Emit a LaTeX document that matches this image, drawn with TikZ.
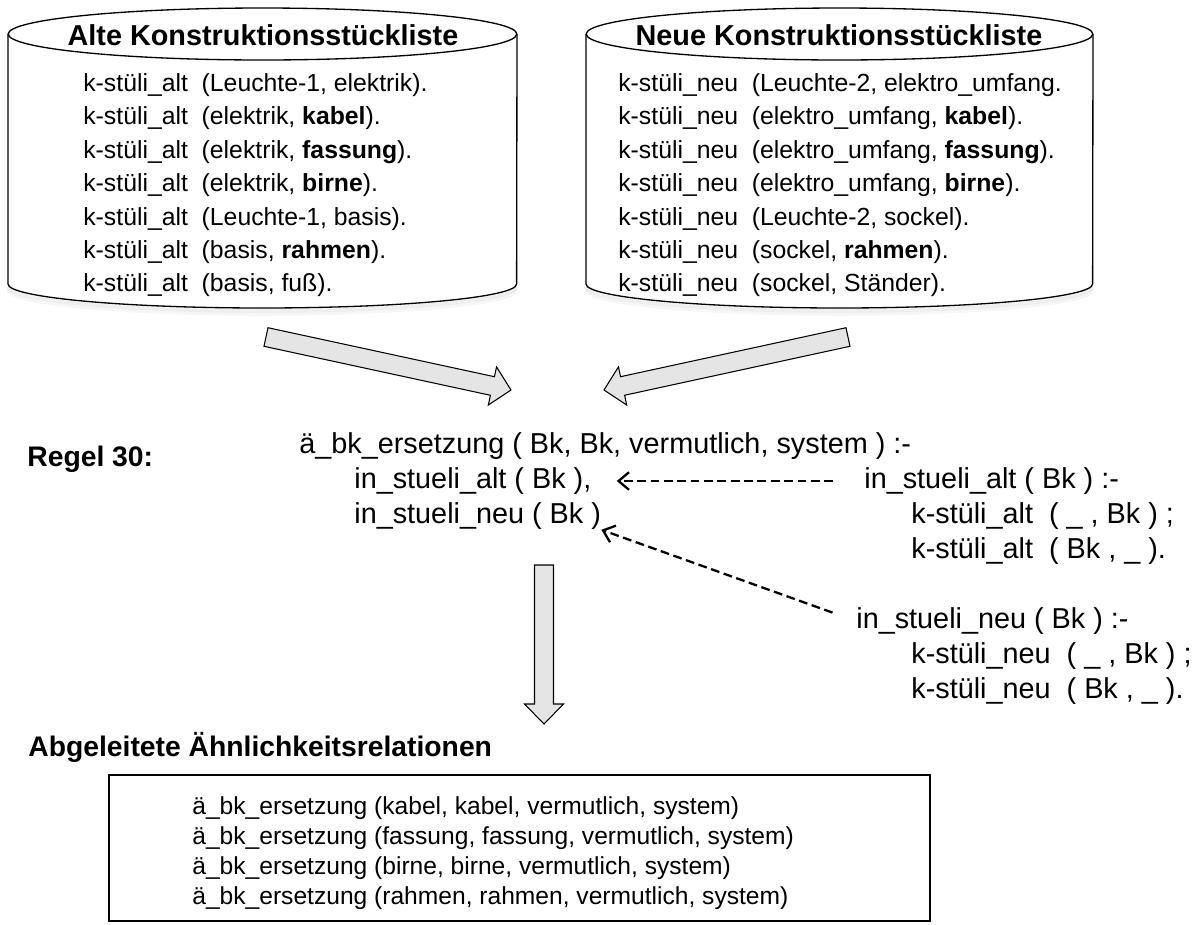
\documentclass[tikz,border=0pt]{standalone}
\usepackage{fontspec}
\setmainfont{Liberation Sans}
\usetikzlibrary{calc,arrows.meta}

\tikzset{
  cylline/.style={line width=0.75pt},
  cylshade/.style={line width=2pt,draw=black!12},
  cyltitle/.style={inner sep=0pt,font=\fontsize{16.4}{18}\selectfont\bfseries},
  cylrow/.style={anchor=west,inner sep=0pt,font=\fontsize{14.1}{16}\selectfont},
  rulerow/.style={anchor=west,inner sep=0pt,font=\fontsize{16.4}{18}\selectfont},
  heading/.style={anchor=west,inner sep=0pt,font=\fontsize{16.1}{18}\selectfont\bfseries},
  resrow/.style={anchor=west,inner sep=0pt,font=\fontsize{14}{16}\selectfont},
  blockarr/.style={draw=black,line width=0.6pt,fill=black!10,line join=miter},
  refarrow/.style={line width=1.3pt,dash pattern=on 5pt off 2.6pt,-{Straight Barb[length=6pt,width=10pt]}},
}

% block arrow: from, to, half shaft, half head, head length
\newcommand{\blockarrow}[5]{%
  \path ($(#2)!#5!(#1)$) coordinate (hb);
  \draw[blockarr] ($(#1)!#3!90:(#2)$) -- ($(hb)!#3!-90:(#1)$) -- ($(hb)!#4!-90:(#1)$)
    -- (#2) -- ($(hb)!#4!90:(#1)$) -- ($(hb)!#3!90:(#1)$) -- ($(#1)!#3!-90:(#2)$) -- cycle;}

\begin{document}
\begin{tikzpicture}[x={(0.02cm,0)},y={(0,-0.02cm)}]
  \useasboundingbox (0,0) rectangle (1201,924);
  \def\top{34}  % top ellipse
  \def\bot{284} % bottom arc
  % the two part lists
  \foreach \xl/\xr in {8/517,586/1093}{
    \pgfmathsetmacro\rx{(\xr-\xl)*0.01}
    \foreach \s/\o in {3/0.5,6/0.3}
      \draw[cylshade,opacity=\o] (\xl,\bot+\s) arc[start angle=180,end angle=360,x radius=\rx cm,y radius=0.48cm];
    \draw[cylline,fill=white] (\xl,\top) -- (\xl,\bot) arc[start angle=180,end angle=360,x radius=\rx cm,y radius=0.48cm] -- (\xr,\top);
    \draw[cylline] ({(\xl+\xr)/2},\top) ellipse [x radius=\rx cm,y radius=0.52cm];
  }
  \node[cyltitle] (alttitle) at (263,35) {Alte Konstruktionsstückliste};
  \node[cyltitle] (neutitle) at (839,35) {Neue Konstruktionsstückliste};
  \foreach \t [count=\i from 0] in {{(Leuchte-1, elektrik).},{(elektrik, \textbf{kabel}).},{(elektrik, \textbf{fassung}).},{(elektrik, \textbf{birne}).},{(Leuchte-1, basis).},{(basis, \textbf{rahmen}).},{(basis, fuß).}}{
    \node[cylrow] (alt\i) at (83,{85+33.4*\i}) {k-stüli\_alt\ \ \t};
  }
  \foreach \t [count=\i from 0] in {{(Leuchte-2, elektro\_umfang.},{(elektro\_umfang, \textbf{kabel}).},{(elektro\_umfang, \textbf{fassung}).},{(elektro\_umfang, \textbf{birne}).},{(Leuchte-2, sockel).},{(sockel, \textbf{rahmen}).},{(sockel, Ständer).}}{
    \node[cylrow] (neu\i) at (618,{85+33.4*\i}) {k-stüli\_neu\ \ \t};
  }
  % block arrows into the rule
  \coordinate (la1) at (266,337);
  \coordinate (la2) at (511,390);
  \coordinate (ra1) at (848,337);
  \coordinate (ra2) at (604,390);
  \blockarrow{la1}{la2}{0.19cm}{0.39cm}{0.38cm}
  \blockarrow{ra1}{ra2}{0.19cm}{0.39cm}{0.38cm}
  % rule 30
  \node[heading] (regel) at (27,459) {Regel 30:};
  \node[rulerow] (rulehead) at (299,446) {ä\_bk\_ersetzung ( Bk, Bk, vermutlich, system ) :-};
  \node[rulerow] (altcall) at (354,481) {in\_stueli\_alt ( Bk ),};
  \node[rulerow] (neucall) at (354,516) {in\_stueli\_neu ( Bk )};
  \node[rulerow] (altdef) at (864,481) {in\_stueli\_alt ( Bk ) :-};
  \node[rulerow] (altdefa) at (911,516) {k-stüli\_alt\ \ ( \_ , Bk ) ;};
  \node[rulerow] (altdefb) at (911,551) {k-stüli\_alt\ \ ( Bk , \_ ).};
  \node[rulerow] (neudef) at (856,621) {in\_stueli\_neu ( Bk ) :-};
  \node[rulerow] (neudefa) at (911,656) {k-stüli\_neu\ \ ( \_ , Bk ) ;};
  \node[rulerow] (neudefb) at (911,691) {k-stüli\_neu\ \ ( Bk , \_ ).};
  \draw[refarrow,shorten <=0.62cm,shorten >=0.5cm] (altdef.west) -- (altcall.east);
  \draw[refarrow,shorten <=0.5cm] (neudef.west) -- (neucall.south east);
  % result
  \coordinate (va1) at (544,565);
  \coordinate (va2) at (544,724);
  \blockarrow{va1}{va2}{0.19cm}{0.39cm}{0.4cm}
  \node[heading] (derived) at (28,747) {Abgeleitete Ähnlichkeitsrelationen};
  \draw[cylline] (109,775) rectangle (930,921);
  \foreach \t [count=\i from 0] in {kabel,fassung,birne,rahmen}{
    \node[resrow] (res\i) at (192,{808+30*\i}) {ä\_bk\_ersetzung (\t, \t, vermutlich, system)};
  }
\end{tikzpicture}
\end{document}
